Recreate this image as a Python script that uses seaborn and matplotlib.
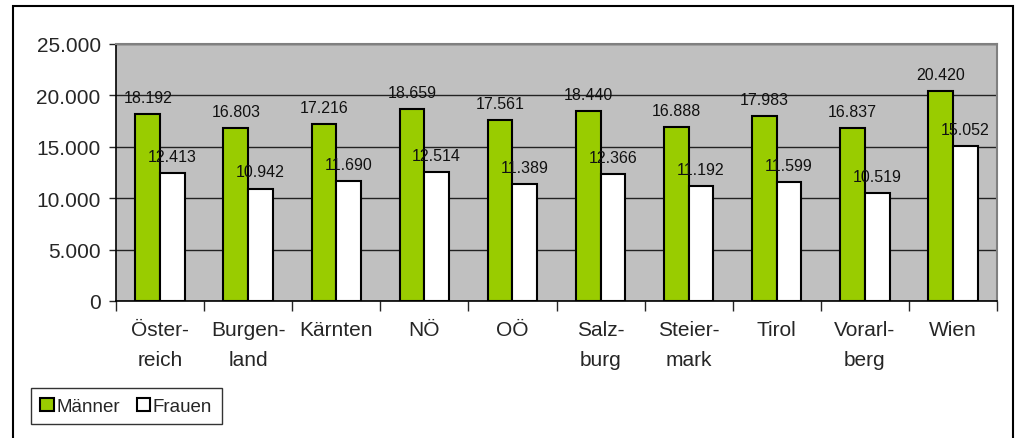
import numpy as np
import pandas as pd
import matplotlib
matplotlib.use("Agg")
import matplotlib.pyplot as plt
from matplotlib.ticker import FuncFormatter, FixedLocator
from matplotlib.patches import Rectangle
import seaborn as sns

laender = ['Öster-\nreich', 'Burgen-\nland', 'Kärnten', 'NÖ', 'OÖ', 'Salz-\nburg',
           'Steier-\nmark', 'Tirol', 'Vorarl-\nberg', 'Wien']
maenner = [18192, 16803, 17216, 18659, 17561, 18440, 16888, 17983, 16837, 20420]
frauen = [12413, 10942, 11690, 12514, 11389, 12366, 11192, 11599, 10519, 15052]
gruppen = ['Männer', 'Frauen']
farben = ['#99CC00', '#FFFFFF']


def punkt(v):
    return f"{v:,.0f}".replace(",", ".")


df = pd.DataFrame({
    "Land": laender * 2,
    "Wert": maenner + frauen,
    "Geschlecht": ["Männer"] * len(laender) + ["Frauen"] * len(laender),
})

sns.set_style("white")
plt.rcParams['font.family'] = ['Liberation Sans', 'DejaVu Sans']

fig = plt.figure(figsize=(10.16, 4.39), dpi=100)
ax = fig.add_axes([116 / 1016, 1 - 302 / 439, (997 - 116) / 1016, (302 - 45) / 439])
ax.set_facecolor('#C0C0C0')

sns.barplot(data=df, x="Land", y="Wert", hue="Geschlecht", hue_order=gruppen,
            palette=farben, edgecolor='black', linewidth=1.5, width=0.56,
            saturation=1, ax=ax)

for cont in ax.containers:
    vals = [b.get_height() for b in cont]
    ax.bar_label(cont, labels=[punkt(v) for v in vals], padding=6.5,
                 fontsize=11.5, color='#111111')

ax.set_ylim(0, 25000)
ax.set_xlim(-0.5, len(laender) - 0.5)
ax.set_yticks(np.arange(0, 25001, 5000))
ax.yaxis.set_major_formatter(FuncFormatter(lambda v, p: punkt(v)))
ax.yaxis.grid(True, color='#222222', lw=1)
ax.set_axisbelow(True)
ax.tick_params(axis='y', which='major', direction='out', length=5, width=1,
               labelsize=15, left=True, pad=6)
ax.tick_params(axis='x', which='major', length=0, labelsize=15, pad=14)
ax.xaxis.set_minor_locator(FixedLocator(np.arange(-0.5, len(laender), 1.0)))
ax.tick_params(axis='x', which='minor', direction='out', length=7, width=1, bottom=True)
for t in ax.get_xticklabels():
    t.set_linespacing(1.7)
    t.set_verticalalignment('top')

ax.set_xlabel("")
ax.set_ylabel("")
for s in ['top', 'right']:
    ax.spines[s].set_color('#808080')
    ax.spines[s].set_linewidth(1.5)
for s in ['left', 'bottom']:
    ax.spines[s].set_color('black')
    ax.spines[s].set_linewidth(1.2)

handles, labels = ax.get_legend_handles_labels()
ax.get_legend().remove()
leg = fig.legend(handles, labels, loc='lower left',
                 bbox_to_anchor=(31 / 1016, 1 - 425 / 439), ncol=2,
                 fontsize=13.5, frameon=True, fancybox=False, edgecolor='black',
                 handlelength=0.7, handleheight=0.7, handletextpad=0.15,
                 columnspacing=0.9, borderpad=0.5, borderaxespad=0)
leg.get_frame().set_linewidth(1)

fig.patches.append(Rectangle((13 / 1016, -0.02), 1000 / 1016, 1.02 - 7 / 439,
                             transform=fig.transFigure, fill=False,
                             edgecolor='black', lw=1.5))

fig.savefig("out.png", dpi=100)
